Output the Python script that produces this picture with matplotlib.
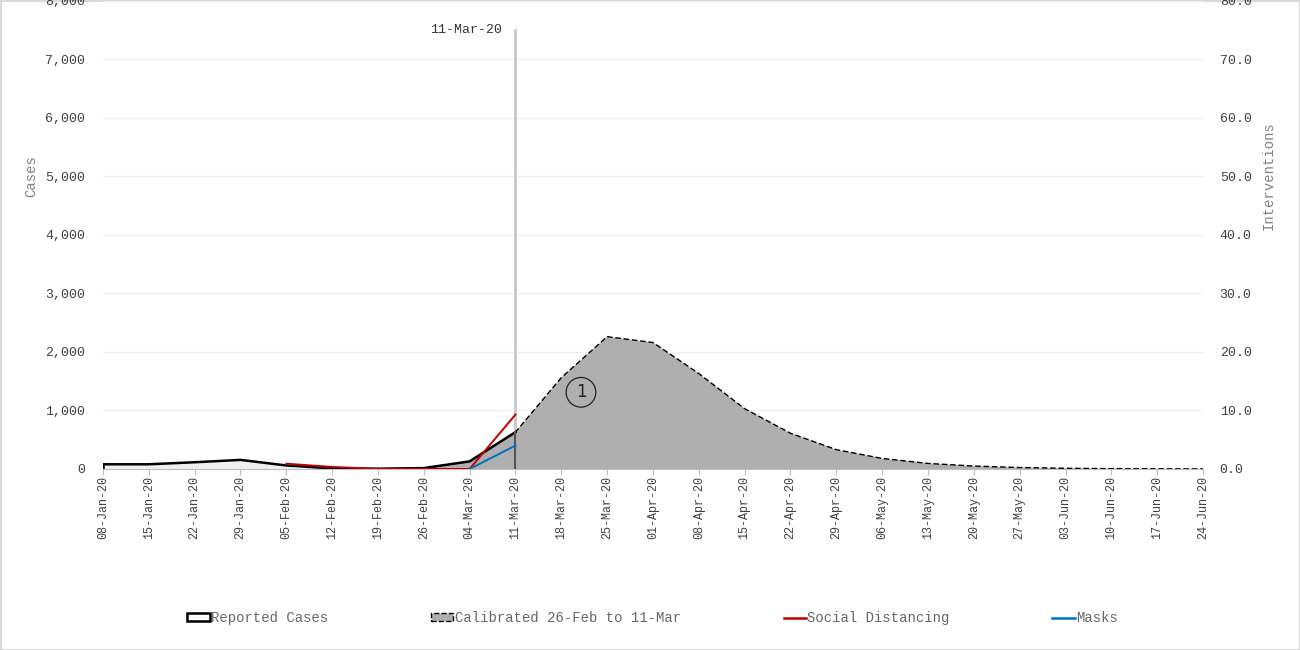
import pandas as pd
import numpy as np
import matplotlib.pyplot as plt
import matplotlib.dates as mdates
from matplotlib.patches import Patch
from matplotlib.lines import Line2D
from matplotlib.ticker import FuncFormatter

plt.rcParams['font.family'] = ['Liberation Mono', 'DejaVu Sans Mono']

weeks = pd.date_range('2020-01-08', '2020-06-24', freq='7D')

# reported weekly cases, 08-Jan .. 11-Mar
reported = [80, 80, 115, 155, 60, 10, 5, 15, 130, 630]
# calibrated model, 26-Feb .. 24-Jun
calibrated = [15, 130, 630, 1560, 2260, 2160, 1630, 1030, 610, 330,
              180, 95, 50, 25, 12, 6, 3, 1]
# interventions (right axis)
social_dates = ['2020-02-05', '2020-02-12', '2020-02-19', '2020-02-26', '2020-03-04', '2020-03-11']
social = [0.9, 0.35, 0.0, 0.0, 0.0, 9.3]
mask_dates = ['2020-03-04', '2020-03-11']
masks = [0.0, 4.0]

marker_date = pd.Timestamp('2020-03-11')

rep_x = weeks[:len(reported)]
cal_x = weeks[len(weeks) - len(calibrated):]

fig = plt.figure(figsize=(13, 6.5), dpi=100)
fig.patch.set_edgecolor('#d9d9d9')
fig.patch.set_linewidth(2)
ax = fig.add_axes([0.0792, 0.2785, 0.8462, 0.7205])
ax2 = ax.twinx()

# marker line
ax.plot([marker_date, marker_date], [0, 7500], color='#c8c8c8', lw=2, zorder=1)
ax.annotate('11-Mar-20', (marker_date, 7500), xytext=(-10, 0), textcoords='offset points',
            ha='right', va='center', fontsize=9.5, color='#333333')

# reported cases area
ax.fill_between(rep_x, reported, color='#f0f0f0', lw=0, zorder=2)
# calibrated area
ax.fill_between(cal_x, calibrated, facecolor='#afafaf', edgecolor='none', zorder=3)
ax.plot(cal_x, calibrated, color='black', lw=1, ls=(0, (4, 2)), zorder=4)
ax.plot(rep_x, reported, color='black', lw=1.8, zorder=5)
ax.plot([rep_x[0], rep_x[0]], [0, reported[0]], color='black', lw=1.8, zorder=5)
ax.plot([rep_x[-1], rep_x[-1]], [0, reported[-1]], color='#555555', lw=1.5, zorder=5)

ax.annotate('1', (pd.Timestamp('2020-03-21'), 1310), ha='center', va='center',
            fontsize=12, family='DejaVu Sans', color='#222222', zorder=6,
            bbox=dict(boxstyle='circle,pad=0.35', fc='none', ec='#222222', lw=0.9))

# interventions
ax2.plot(pd.to_datetime(social_dates), social, color='#c00000', lw=1.4)
ax2.plot(pd.to_datetime(mask_dates), masks, color='#0070c0', lw=1.4)

ax.set_xlim(weeks[0], weeks[-1])
ax.set_ylim(0, 8000)
ax2.set_ylim(0, 80)
ax.set_yticks(np.arange(0, 8001, 1000))
ax2.set_yticks(np.arange(0, 81, 10))
ax.yaxis.set_major_formatter(FuncFormatter(lambda v, p: f'{int(v):,}'))
ax2.yaxis.set_major_formatter(FuncFormatter(lambda v, p: f'{v:.1f}'))
ax.set_xticks(weeks)
ax.xaxis.set_major_formatter(mdates.DateFormatter('%d-%b-%y'))
plt.setp(ax.get_xticklabels(), rotation=90)

ax.grid(axis='y', color='#f0f0f0', lw=1)
ax.set_axisbelow(True)
for a in (ax, ax2):
    for s in ('top', 'left', 'right'):
        a.spines[s].set_visible(False)
ax.spines['bottom'].set_color('#bfbfbf')
ax2.spines['bottom'].set_visible(False)
ax.tick_params(axis='x', colors='#bfbfbf', labelcolor='#404040', labelsize=8.5, length=4, pad=1)
ax.tick_params(axis='y', length=0, labelcolor='#404040', labelsize=9.5, pad=13)
ax2.tick_params(axis='y', length=0, labelcolor='#404040', labelsize=9.5, pad=12)

ax.set_ylabel('Cases', color='#808080', fontsize=10)
ax2.set_ylabel('Interventions', color='#808080', fontsize=10)
ax.yaxis.set_label_coords(-0.059, 0.626)
ax2.yaxis.set_label_coords(1.053, 0.626)

handles = [
    Patch(facecolor='white', edgecolor='black', lw=1.8, label='Reported Cases'),
    Patch(facecolor='#afafaf', edgecolor='black', lw=1, ls='--', label='Calibrated 26-Feb to 11-Mar'),
    Line2D([], [], color='#c00000', lw=1.8, label='Social Distancing'),
    Line2D([], [], color='#0070c0', lw=1.8, label='Masks'),
]
leg = fig.legend(handles=handles, loc='center', bbox_to_anchor=(0.502, 0.049), ncol=4,
                 frameon=False, fontsize=10, handlelength=1.6, handleheight=0.45,
                 handletextpad=0.1, columnspacing=7.4)
for t in leg.get_texts():
    t.set_color('#666666')

fig.savefig('out.png', dpi=100, edgecolor=fig.get_edgecolor())
